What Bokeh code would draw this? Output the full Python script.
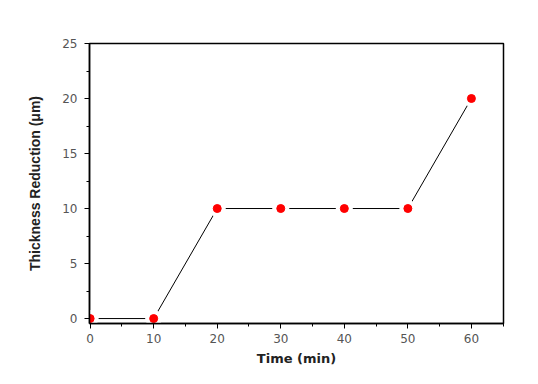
from bokeh.plotting import figure
from bokeh.models import SingleIntervalTicker, Range1d
from bokeh.embed import file_html
from bokeh.resources import INLINE

time_min = [0, 10, 20, 30, 40, 50, 60]
thickness_um = [0, 0, 10, 10, 10, 10, 20]

p = figure(width=522, height=368, output_backend="svg", toolbar_location=None,
           x_range=Range1d(-0.1, 65.05), y_range=Range1d(-0.45, 25),
           min_border_left=89, min_border_right=19, min_border_top=43, min_border_bottom=43)

p.line(time_min, thickness_um, line_color="black", line_width=1)
p.scatter(time_min, thickness_um, size=17, fill_color="white", line_color=None)
p.scatter(time_min, thickness_um, size=8, fill_color="red", line_color="red")

p.grid.visible = False
p.outline_line_color = "black"
p.outline_line_width = 1.5
p.outline_line_alpha = 1

for ax in (p.xaxis[0], p.yaxis[0]):
    ax.axis_line_color = "black"
    ax.axis_line_width = 1.5
    ax.major_tick_line_color = "black"
    ax.minor_tick_line_color = "black"
    ax.major_tick_out = 5
    ax.major_tick_in = 0
    ax.minor_tick_out = 3
    ax.minor_tick_in = 0
    ax.major_label_text_font = "DejaVu Sans"
    ax.major_label_text_font_size = "12px"
    ax.major_label_text_color = "#555555"
    ax.axis_label_text_font_style = "bold"
    ax.axis_label_text_color = "#222222"

p.xaxis.axis_label_text_font = "DejaVu Sans"
p.xaxis.axis_label_text_font_size = "13px"
p.yaxis.axis_label_text_font = "Liberation Sans"
p.yaxis.axis_label_text_font_size = "14px"
p.xaxis.ticker = SingleIntervalTicker(interval=10, num_minor_ticks=2)
p.yaxis.ticker = SingleIntervalTicker(interval=5, num_minor_ticks=2)
p.xaxis.axis_label = "Time (min)"
p.yaxis.axis_label = "Thickness Reduction (μm)"
p.xaxis.axis_label_standoff = 5
p.yaxis.axis_label_standoff = 16
p.xaxis.major_label_standoff = 5
p.yaxis.major_label_standoff = 7

open("out.html", "w").write(file_html(p, INLINE))
